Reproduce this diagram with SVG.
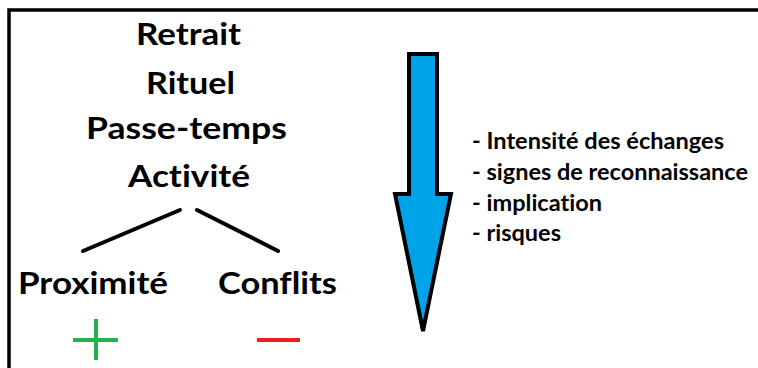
<svg xmlns="http://www.w3.org/2000/svg" width="758" height="368" viewBox="0 0 758 368">
<style>
.t{font-family:Lato,"Liberation Sans",sans-serif;font-weight:bold;fill:#000;font-variant-ligatures:none}
.big{font-size:31px}
.small{font-size:23px}
.ln{stroke:#000;stroke-width:4;stroke-linecap:round;fill:none}
</style>
<rect width="758" height="368" fill="#fff"/>
<g id="frame"><path d="M9,368 V10 H758" fill="none" stroke="#000" stroke-width="3.5"/></g>
<g id="retrait"><text class="t big" x="136" y="45" textLength="105" lengthAdjust="spacingAndGlyphs">Retrait</text></g>
<g id="rituel"><text class="t big" x="146" y="94" textLength="89" lengthAdjust="spacingAndGlyphs">Rituel</text></g>
<g id="passe-temps"><text class="t big" x="86" y="139" textLength="201" lengthAdjust="spacingAndGlyphs">Passe-temps</text></g>
<g id="activite"><text class="t big" x="128" y="187" textLength="122" lengthAdjust="spacingAndGlyphs">Activité</text></g>
<g id="proximite"><text class="t big" x="18" y="294" textLength="150" lengthAdjust="spacingAndGlyphs">Proximité</text></g>
<g id="conflits"><text class="t big" x="218" y="294" textLength="119" lengthAdjust="spacingAndGlyphs">Conflits</text></g>
<g id="connectors">
<line class="ln" x1="83" y1="251" x2="180" y2="210"/>
<line class="ln" x1="197" y1="210" x2="278" y2="251"/>
</g>
<g id="plus"><path d="M73,340 H118 M96,319 V360" stroke="#22B14C" stroke-width="4" fill="none"/></g>
<g id="minus"><path d="M257,340 H300" stroke="#ED1C24" stroke-width="4" fill="none"/></g>
<g id="arrow"><path d="M409,54 H437 V194 H451 L423,331 L395,194 H409 Z" fill="#00A2E8" stroke="#000" stroke-width="4" stroke-linejoin="miter"/></g>
<g id="list">
<text class="t small" x="472" y="149" textLength="252" lengthAdjust="spacingAndGlyphs">- Intensité des échanges</text>
<text class="t small" x="472" y="180" textLength="276" lengthAdjust="spacingAndGlyphs">- signes de reconnaissance</text>
<text class="t small" x="472" y="211" textLength="130" lengthAdjust="spacingAndGlyphs">- implication</text>
<text class="t small" x="472" y="241" textLength="89" lengthAdjust="spacingAndGlyphs">- risques</text>
</g>
</svg>
